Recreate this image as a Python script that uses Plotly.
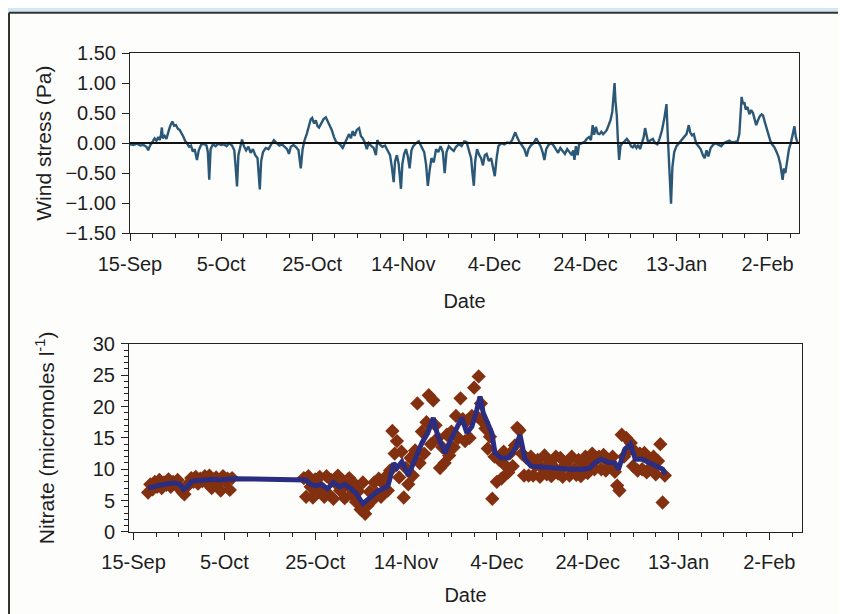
import pandas as pd
import plotly.graph_objects as go
from plotly.subplots import make_subplots

# ---------------- data ----------------
START = pd.Timestamp("1997-09-15")

# Wind stress (Pa): day offset from 15-Sep, value
wind_day = [
    0.0, 0.8, 1.5, 2.3, 3.0, 3.6, 4.0, 4.4, 5.0, 5.4, 5.8, 6.2, 6.5, 6.8, 7.0, 7.2, 7.6, 8.0, 8.4, 8.8,
    9.3, 9.7, 10.1, 10.5, 10.9, 11.3, 11.7, 12.1, 12.5, 13.0, 13.4, 13.8, 14.2, 14.7, 15.1, 15.6, 16.2, 16.8, 17.1, 17.4,
    17.7, 18.2, 18.8, 19.4, 20.0, 20.6, 21.2, 21.8, 22.4, 22.9, 23.2, 23.5, 23.8, 24.2, 24.6, 25.0, 25.5, 26.0, 26.5, 27.0,
    27.5, 28.0, 28.3, 28.5, 28.8, 29.2, 29.8, 30.4, 31.0, 31.6, 32.2, 32.8, 33.4, 34.0, 34.5, 34.9, 35.3, 35.9, 36.5, 37.0,
    37.5, 37.9, 38.3, 38.8, 39.3, 39.7, 40.0, 40.4, 40.8, 41.2, 41.5, 42.0, 42.5, 43.0, 43.4, 43.8, 44.3, 44.8, 45.2, 45.7,
    46.2, 46.7, 47.2, 47.7, 48.1, 48.5, 48.9, 49.3, 49.8, 50.3, 50.7, 51.1, 51.5, 52.0, 52.4, 52.9, 53.5, 54.0, 54.3, 54.8,
    55.4, 56.0, 56.6, 57.1, 57.5, 57.9, 58.2, 58.6, 59.0, 59.5, 59.8, 60.2, 60.6, 61.0, 61.4, 61.8, 62.2, 62.8, 63.4, 64.0,
    64.6, 65.0, 65.4, 65.8, 66.2, 66.7, 67.2, 67.7, 68.2, 68.7, 69.1, 69.5, 70.0, 70.6, 71.1, 71.6, 72.2, 72.8, 73.4, 73.9,
    74.4, 74.9, 75.2, 75.5, 75.8, 76.2, 76.7, 77.1, 77.5, 77.9, 78.3, 78.8, 79.3, 79.7, 80.1, 80.5, 80.9, 81.5, 82.2, 82.8,
    83.4, 83.9, 84.3, 84.6, 85.0, 85.5, 86.0, 86.6, 87.1, 87.5, 88.0, 88.6, 89.2, 89.7, 90.2, 90.6, 91.0, 91.4, 91.9, 92.5,
    93.0, 93.5, 94.0, 94.5, 95.0, 95.5, 96.0, 96.5, 97.0, 97.3, 97.6, 97.9, 98.3, 98.6, 99.2, 99.8, 100.3, 100.8, 101.2, 101.6,
    101.9, 102.3, 102.7, 103.1, 103.5, 103.9, 104.3, 104.7, 105.1, 105.5, 105.9, 106.2, 106.4, 106.6, 106.9, 107.1, 107.4, 107.7, 108.1, 108.6,
    109.1, 109.6, 110.0, 110.4, 110.8, 111.2, 111.6, 112.0, 112.4, 112.8, 113.1, 113.4, 113.8, 114.3, 114.8, 115.3, 115.8, 116.3, 116.8, 117.3,
    117.8, 118.1, 118.4, 118.8, 119.1, 119.5, 120.0, 120.6, 121.2, 121.7, 122.2, 122.7, 123.0, 123.4, 123.8, 124.3, 124.8, 125.3, 125.8, 126.2,
    126.6, 127.0, 127.5, 128.0, 128.6, 129.2, 129.8, 130.4, 131.0, 131.6, 132.2, 132.8, 133.4, 133.8, 134.1, 134.3, 134.6, 134.9, 135.2, 135.6,
    136.0, 136.4, 136.8, 137.2, 137.5, 137.9, 138.3, 138.7, 139.0, 139.4, 139.8, 140.2, 140.6, 141.0, 141.5, 142.0, 142.4, 142.8, 143.3, 143.6,
    143.9, 144.3, 144.7, 145.1, 145.5, 145.9, 146.2, 146.6,
]
wind_stress = [
    -0.02, -0.03, -0.01, -0.04, -0.03, -0.06, -0.12, -0.04, 0.03, 0.08, 0.04, 0.10, 0.05, 0.14, 0.26, 0.08, 0.12, 0.07, 0.18, 0.28,
    0.36, 0.29, 0.30, 0.24, 0.22, 0.17, 0.11, 0.04, 0.00, -0.06, -0.04, -0.14, -0.10, -0.28, -0.12, -0.03, -0.01, -0.04, -0.15, -0.61,
    -0.10, -0.02, -0.05, -0.01, -0.03, -0.02, -0.05, 0.00, -0.04, -0.12, -0.40, -0.72, -0.20, -0.06, 0.06, -0.05, -0.12, -0.06, -0.16, -0.10,
    -0.20, -0.25, -0.50, -0.77, -0.30, -0.15, -0.08, -0.10, -0.02, 0.05, 0.00, -0.04, -0.02, -0.06, -0.10, -0.18, -0.06, -0.03, -0.07, -0.12,
    -0.42, -0.10, 0.04, 0.15, 0.30, 0.40, 0.42, 0.33, 0.38, 0.28, 0.26, 0.33, 0.40, 0.43, 0.36, 0.31, 0.22, 0.10, 0.03, 0.00,
    -0.03, -0.08, 0.00, 0.06, 0.15, 0.08, 0.20, 0.12, 0.22, 0.25, 0.12, 0.08, 0.02, -0.10, 0.00, -0.04, -0.08, -0.20, 0.05, -0.02,
    -0.06, -0.04, -0.12, -0.20, -0.40, -0.65, -0.30, -0.20, -0.35, -0.76, -0.35, -0.18, -0.10, -0.22, -0.42, -0.12, -0.05, 0.00, 0.03, -0.05,
    -0.15, -0.35, -0.71, -0.45, -0.25, -0.32, -0.10, -0.15, -0.05, -0.15, -0.50, -0.15, -0.05, -0.10, -0.13, -0.06, -0.02, -0.05, 0.03, 0.02,
    -0.10, -0.25, -0.50, -0.71, -0.30, -0.10, -0.20, -0.25, -0.37, -0.20, -0.18, -0.30, -0.25, -0.40, -0.55, -0.25, -0.05, 0.00, -0.02, 0.01,
    0.00, 0.05, 0.12, 0.18, 0.10, 0.02, -0.03, -0.10, -0.22, -0.10, -0.04, 0.00, 0.08, 0.02, -0.06, -0.15, -0.28, -0.10, -0.03, 0.00,
    -0.04, -0.10, -0.16, -0.08, -0.13, -0.18, -0.10, -0.15, -0.20, -0.12, -0.28, -0.05, -0.20, -0.02, 0.00, 0.02, 0.07, 0.10, 0.05, 0.30,
    0.14, 0.27, 0.16, 0.15, 0.19, 0.15, 0.18, 0.22, 0.30, 0.38, 0.52, 0.75, 1.00, 0.70, 0.45, 0.10, -0.28, -0.05, 0.00, 0.03,
    0.07, 0.02, -0.05, -0.07, -0.03, -0.08, -0.03, -0.10, 0.02, 0.10, 0.25, 0.15, 0.00, 0.05, 0.07, 0.00, -0.02, 0.08, 0.21, 0.40,
    0.65, 0.10, -0.50, -1.01, -0.40, -0.15, -0.05, 0.00, 0.05, 0.10, 0.15, 0.30, 0.18, 0.13, 0.15, 0.00, -0.05, -0.10, -0.20, -0.25,
    -0.12, -0.22, -0.08, -0.03, 0.00, -0.02, -0.05, 0.00, 0.02, 0.04, 0.01, 0.02, 0.03, 0.15, 0.60, 0.77, 0.65, 0.68, 0.56, 0.60,
    0.48, 0.55, 0.50, 0.36, 0.30, 0.38, 0.45, 0.48, 0.46, 0.35, 0.24, 0.12, 0.04, -0.02, -0.07, -0.15, -0.23, -0.35, -0.61, -0.42,
    -0.50, -0.30, -0.10, 0.00, 0.12, 0.28, 0.10, 0.00,
]

# Nitrate smoothed line (micromoles/l): day offset, value
nitrate_line_day = [
    3.2, 4.5, 6.0, 7.5, 9.0, 10.2, 11.0, 11.8, 12.8, 14.5, 16.0, 17.5, 19.0, 20.5, 22.0,
    37.8, 39.0, 40.2, 41.3, 42.7, 44.0, 45.4, 46.5, 48.0, 49.0, 50.5, 51.5, 52.6, 53.8, 55.0,
    56.0, 56.6, 57.3, 58.0, 59.1, 60.5, 61.5, 63.5, 64.8, 66.0, 67.0, 68.6, 69.7, 71.0, 72.3,
    73.4, 74.5, 75.6, 76.3, 77.0, 77.8, 78.9, 79.6, 81.0, 82.5, 84.0, 85.1, 86.2, 87.5, 90.0,
    93.0, 96.0, 99.0, 100.5, 101.7, 103.0, 104.5, 106.0, 106.8, 108.2, 109.4, 110.5, 112.0, 113.5, 115.0,
    116.5, 117.1,
]
nitrate_line = [
    7.0, 7.3, 7.5, 7.7, 7.8, 7.6, 6.8, 7.2, 8.1, 8.2, 8.3, 8.4, 8.3, 8.4, 8.5,
    8.3, 7.6, 7.4, 7.6, 6.9, 7.9, 7.2, 7.6, 6.8, 6.2, 4.5, 5.2, 5.8, 6.5, 7.0,
    7.3, 8.9, 11.0, 10.2, 11.2, 9.0, 10.9, 14.2, 15.8, 18.2, 15.3, 12.6, 14.5, 16.3, 18.2,
    15.8, 16.8, 19.5, 21.6, 19.0, 17.7, 15.8, 12.6, 11.8, 11.8, 13.2, 15.5, 11.6, 10.5, 10.3,
    10.2, 10.0, 10.0, 10.2, 11.1, 11.6, 11.1, 11.0, 10.0, 13.2, 14.0, 11.6, 11.6, 11.1, 10.5,
    10.0, 9.2,
]

# Nitrate samples (diamonds), sampled every 12 h
nitrate_a_start, nitrate_b_start = 3.2, 37.5
nitrate_a = [
    6.3, 7.6, 6.8, 8.0, 7.2, 8.3, 7.0, 7.9, 7.5, 8.4,
    7.2, 8.0, 7.6, 8.3, 7.0, 6.4, 6.0, 7.2, 7.8, 8.6,
    8.0, 8.8, 7.7, 8.5, 8.1, 8.9, 7.8, 9.0, 7.0, 8.4,
    8.7, 7.9, 6.6, 8.9, 8.1, 8.5, 6.7, 8.6,
]
nitrate_b = [
    8.6, 5.6, 8.9, 7.2, 5.5, 8.4, 6.3, 8.8, 7.0, 5.6,
    8.9, 6.0, 8.3, 5.3, 7.8, 9.0, 6.6, 8.2, 5.4, 7.5,
    8.6, 6.0, 7.8, 4.8, 6.5, 3.6, 7.9, 2.9, 4.2, 6.4,
    5.0, 7.9, 6.2, 8.5, 5.6, 7.7, 8.8, 6.6, 9.8, 16.1,
    12.5, 14.5, 8.7, 12.8, 5.5, 10.2, 7.6, 11.8, 9.0, 13.0,
    20.5, 11.0, 16.0, 12.5, 17.5, 21.8, 14.0, 21.0, 17.0, 15.0,
    10.2, 13.5, 11.0, 15.5, 12.2, 16.0, 13.5, 18.5, 15.0, 21.3,
    18.0, 14.5, 17.8, 15.0, 18.5, 23.0, 18.5, 24.8, 20.5, 17.5,
    16.5, 13.3, 15.2, 5.3, 12.0, 8.0, 11.5, 8.5, 12.8, 10.5,
    9.5, 12.6, 10.5, 13.8, 16.6, 16.2, 12.5, 9.0, 11.8, 9.0,
    12.0, 9.0, 10.6, 11.5, 8.8, 10.2, 12.2, 9.2, 11.0, 8.9,
    10.4, 12.0, 9.3, 11.8, 8.8, 10.6, 11.2, 9.0, 12.0, 10.0,
    9.1, 11.5, 8.9, 10.4, 12.0, 9.4, 11.0, 12.5, 10.0, 11.6,
    12.0, 10.0, 12.3, 9.8, 11.2, 10.6, 12.0, 9.6, 7.4, 6.6,
    15.5, 12.0, 15.0, 13.0, 14.2, 10.5, 12.8, 9.8, 12.5, 10.0,
    12.6, 9.5, 11.8, 10.4, 12.0, 9.2, 11.3, 14.0, 4.7, 9.0,
]

tick_dates = ["1997-09-15", "1997-10-05", "1997-10-25", "1997-11-14", "1997-12-04",
              "1997-12-24", "1998-01-13", "1998-02-02"]
wind_ticks = [-1.5, -1.0, -0.5, 0, 0.5, 1.0, 1.5]
nitrate_ticks = [0, 5, 10, 15, 20, 25, 30]

# ---------------- helpers ----------------
def to_dates(days):
    return [START + pd.Timedelta(days=float(d)) for d in days]

nit_a_x = pd.date_range(START + pd.Timedelta(days=nitrate_a_start), periods=len(nitrate_a), freq="12h")
nit_b_x = pd.date_range(START + pd.Timedelta(days=nitrate_b_start), periods=len(nitrate_b), freq="12h")

FONT = "Liberation Sans, Arial, sans-serif"
TXT = "#1e1e1e"
PAGE_BLUE = "#d3e7f2"
SHEET = "#fdfdfc"
AX = "#222"

# The page places the figure 8 px from the window's top-left corner (body margin).
OFF = 8
W, H = 846 - OFF, 614 - OFF
L, R, T, B = 121, W - (802 - OFF), 45, H - (534 - OFF)
PW, PH = W - L - R, H - T - B


def px_x(p):  # window pixel -> paper x
    return (p - OFF - L) / PW


def px_y(p):  # window pixel -> paper y
    return (H - B - (p - OFF)) / PH


top_rng = [START, START + pd.Timedelta(days=146.9)]
bot_rng = [START + pd.Timedelta(days=-1.0), START + pd.Timedelta(days=147.2)]
top_dom_x = [px_x(130), px_x(799)]
bot_dom_x = [px_x(129), px_x(802)]
top_dom_y = [px_y(234), px_y(53)]
bot_dom_y = [px_y(534), px_y(345)]

fig = make_subplots(rows=2, cols=1)

fig.add_trace(go.Scatter(x=to_dates(wind_day), y=wind_stress, mode="lines",
                         line=dict(color="#2c5878", width=2.4), showlegend=False),
              row=1, col=1)

fig.add_trace(go.Scatter(x=list(nit_a_x) + [None] + list(nit_b_x), y=nitrate_a + [None] + nitrate_b,
                         mode="markers",
                         marker=dict(symbol="diamond", size=11, color="#82300f",
                                     line=dict(width=0)),
                         showlegend=False),
              row=2, col=1)
fig.add_trace(go.Scatter(x=to_dates(nitrate_line_day), y=nitrate_line, mode="lines",
                         line=dict(color="#2a2d80", width=5), showlegend=False),
              row=2, col=1)

x_common = dict(
    type="date", tickmode="array", tickvals=tick_dates, tickformat="%-d-%b",
    ticks="outside", ticklen=7, tickwidth=1, tickcolor=AX,
    minor=dict(dtick=5 * 86400000, tick0="1997-09-15", ticks="outside", ticklen=4, tickcolor=AX),
    showline=True, linecolor=AX, linewidth=1, mirror=True,
    showgrid=False, zeroline=False,
    tickfont=dict(family=FONT, size=20, color=TXT),
    title=dict(font=dict(family=FONT, size=20, color=TXT)),
)

fig.update_xaxes(**x_common)
fig.update_xaxes(range=top_rng, domain=top_dom_x, anchor="y",
                 ticklabelstandoff=6, title_text="Date", title_standoff=19, row=1, col=1)
fig.update_xaxes(range=bot_rng, domain=bot_dom_x, anchor="y2",
                 ticklabelstandoff=5, title_text="Date", title_standoff=15, row=2, col=1)

fig.update_yaxes(
    range=[-1.5, 1.5], tickmode="array", tickvals=wind_ticks,
    tickformat=".2f", ticks="outside", ticklen=7, tickcolor=AX,
    showline=True, linecolor=AX, linewidth=1, mirror=True,
    showgrid=False, zeroline=False,
    tickfont=dict(family=FONT, size=20, color=TXT), ticklabelstandoff=2,
    title=dict(text="Wind stress (Pa)", font=dict(family=FONT, size=21, color=TXT), standoff=8),
    domain=top_dom_y, row=1, col=1,
)
fig.update_yaxes(
    range=[0, 30], tickmode="array", tickvals=nitrate_ticks,
    ticks="outside", ticklen=7, tickcolor=AX,
    minor=dict(dtick=1, ticks="outside", ticklen=4, tickcolor=AX),
    showline=True, linecolor=AX, linewidth=1, mirror=True,
    showgrid=False, zeroline=False,
    tickfont=dict(family=FONT, size=20, color=TXT), ticklabelstandoff=2,
    title=dict(text="Nitrate (micromoles l<sup>-1</sup>)", font=dict(family=FONT, size=21, color=TXT), standoff=32),
    domain=bot_dom_y, row=2, col=1,
)

# overlay axes carrying only inward major ticks, so the major ticks cross the axis lines
inner = dict(ticks="inside", ticklen=6, tickwidth=1, tickcolor=AX, showticklabels=False,
             showline=False, showgrid=False, zeroline=False)
fig.update_layout(
    xaxis3=dict(overlaying="x", anchor="y", type="date", range=top_rng, domain=top_dom_x,
                tickmode="array", tickvals=tick_dates, side="bottom", **inner),
    xaxis4=dict(overlaying="x2", anchor="y2", type="date", range=bot_rng, domain=bot_dom_x,
                tickmode="array", tickvals=tick_dates, side="bottom", **inner),
    yaxis3=dict(overlaying="y", anchor="x", range=[-1.5, 1.5], domain=top_dom_y,
                tickmode="array", tickvals=wind_ticks, side="left", **inner),
    yaxis4=dict(overlaying="y2", anchor="x2", range=[0, 30], domain=bot_dom_y,
                tickmode="array", tickvals=nitrate_ticks, side="left", **inner),
)

fig.update_layout(
    width=W, height=H,
    margin=dict(l=L, r=R, t=T, b=B),
    paper_bgcolor=SHEET,
    plot_bgcolor="rgba(0,0,0,0)",
    font=dict(family=FONT, color=TXT),
    shapes=[
        # light-blue page strips along the top and left, outside the printed frame
        dict(type="rect", xref="paper", yref="paper",
             x0=px_x(0), x1=px_x(880), y0=px_y(12.5), y1=px_y(-20),
             fillcolor=PAGE_BLUE, line=dict(width=0), layer="below"),
        dict(type="rect", xref="paper", yref="paper",
             x0=px_x(-20), x1=px_x(9), y0=px_y(660), y1=px_y(0),
             fillcolor=PAGE_BLUE, line=dict(width=0), layer="below"),
        # printed frame: top and left edges
        dict(type="line", xref="paper", yref="paper",
             x0=px_x(9), x1=px_x(880), y0=px_y(12.5), y1=px_y(12.5),
             line=dict(color="#333", width=2), layer="below"),
        dict(type="line", xref="paper", yref="paper",
             x0=px_x(9), x1=px_x(9), y0=px_y(12.5), y1=px_y(660),
             line=dict(color="#333", width=2), layer="below"),
        # bold zero line in the wind-stress panel
        dict(type="line", xref="x domain", yref="y", x0=0, x1=1, y0=0, y1=0,
             line=dict(color="#111", width=2), layer="above"),
    ],
)

fig.write_html("out.html")
